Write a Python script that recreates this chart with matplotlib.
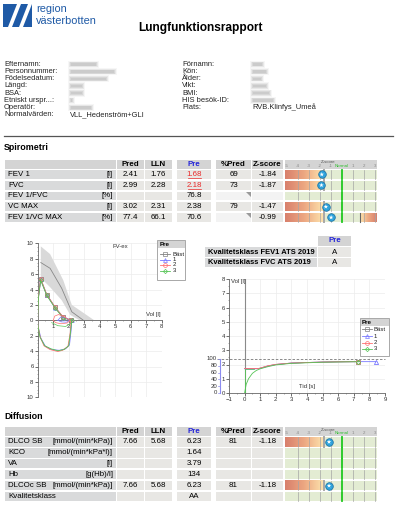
"""
Lungfunktionsrapport - återskapad rapportsida med spirometri, flödes-volym,
volym-tid och diffusion.
"""

import matplotlib
matplotlib.use("Agg")
import matplotlib.pyplot as plt
import matplotlib.patches as patches
from matplotlib.colors import LinearSegmentedColormap
from matplotlib.ticker import MultipleLocator, FuncFormatter
import numpy as np

plt.rcParams['font.family'] = ['Liberation Sans', 'DejaVu Sans']

W, H = 397, 507

# ---------------- data ----------------
info_left_labels = ["Efternamn:", "Personnummer:", "Födelsedatum:", "Längd:", "BSA:",
                    "Etniskt urspr...:", "Operatör:", "Normalvärden:"]
info_right_labels = ["Förnamn:", "Kön:", "Ålder:", "Vikt:", "BMI:", "HIS besök-ID:", "Plats:"]
normalvarden = "VLL_Hedenström+GLI"
plats = "RVB.Klinfys_Umeå"

spiro_names = ["FEV 1", "FVC", "FEV 1/FVC", "VC MAX", "FEV 1/VC MAX"]
spiro_units = ["[l]", "[l]", "[%]", "[l]", "[%]"]
spiro_pred = ["2.41", "2.99", "", "3.02", "77.4"]
spiro_lln = ["1.76", "2.28", "", "2.31", "66.1"]
spiro_pre = ["1.68", "2.18", "76.8", "2.38", "70.6"]
spiro_pct = ["69", "73", "", "79", ""]
spiro_z = [-1.84, -1.87, None, -1.47, -0.99]
spiro_has_uln = [False, False, False, False, True]

kval_names = ["Kvalitetsklass FEV1 ATS 2019", "Kvalitetsklass FVC ATS 2019"]
kval_pre = ["A", "A"]

diff_names = ["DLCO SB", "KCO", "VA", "Hb", "DLCOc SB", "Kvalitetsklass"]
diff_units = ["[mmol/(min*kPa)]", "[mmol/(min*kPa*l)]", "[l]", "[g(Hb)/l]", "[mmol/(min*kPa)]", ""]
diff_pred = ["7.66", "", "", "", "7.66", ""]
diff_lln = ["5.68", "", "", "", "5.68", ""]
diff_pre = ["6.23", "1.64", "3.79", "134", "6.23", "AA"]
diff_pct = ["81", "", "", "", "81", ""]
diff_z = [-1.18, None, None, None, -1.18, None]

# flöde-volym (FV-ex)
fv_pred_vol = [0.2, 0.8, 1.55, 2.2, 2.95]
fv_pred_flow = [7.5, 6.75, 4.15, 1.1, 0.0]
fv_band_up_vol = [0.2, 0.8, 1.65, 2.2, 3.65]
fv_band_up_flow = [9.6, 8.6, 5.2, 2.0, 0.0]
fv_band_lo_vol = [0.2, 0.8, 1.55, 2.1, 2.7]
fv_band_lo_flow = [5.5, 4.3, 2.6, 0.7, 0.0]

fv_vol_1 = [0, 0.05, 0.19, 0.58, 1.12, 1.65, 2.2, 2.15, 2.05, 1.8, 1.4, 0.9, 0.5, 0.2, 0.05, 0]
fv_flow_1 = [0, 3.0, 5.3, 3.3, 1.65, 0.35, 0, -1.4, -3.2, -3.7, -3.9, -3.8, -3.4, -2.3, -1.0, 0]
fv_vol_2 = [0, 0.05, 0.19, 0.58, 1.12, 1.65, 2.15, 2.1, 1.95, 1.6, 1.3, 0.8, 0.4, 0.15, 0.03, 0]
fv_flow_2 = [0, 3.1, 5.4, 3.35, 1.7, 0.4, 0, -1.6, -3.4, -3.9, -4.05, -3.8, -3.3, -2.1, -0.8, 0]
fv_vol_3 = [0, 0.05, 0.19, 0.58, 1.12, 1.65, 2.2, 2.12, 2.0, 1.7, 1.3, 0.85, 0.45, 0.15, 0.03, 0]
fv_flow_3 = [0, 2.9, 5.2, 3.25, 1.6, 0.3, 0, -1.5, -3.3, -3.8, -3.95, -3.7, -3.3, -2.2, -0.9, 0]
fv_best_vol = fv_vol_2[:7]
fv_best_flow = fv_flow_2[:7]
# små andetag före manövern
fv_tidal_vol_1 = [1.3, 1.5, 1.8, 2.05, 1.85, 1.5, 1.3]
fv_tidal_flow_1 = [0, 0.45, 0.35, 0, -0.25, -0.2, 0]
fv_tidal_vol_2 = [1.0, 1.1, 1.35, 1.7, 2.1, 1.9, 1.5, 1.15, 1.0]
fv_tidal_flow_2 = [0, 0.55, 0.75, 0.45, 0, -0.35, -0.45, -0.3, 0]
fv_tidal_vol_3 = [0.9, 1.3, 1.8, 2.15]
fv_tidal_flow_3 = [-0.3, -0.7, -0.8, -0.4]

# volym-tid
vt_t_best = [0, 0.9, 1.0, 1.5, 2, 3, 4, 5, 6, 7.3]
vt_v_best = [1.72, 1.72, 1.74, 1.9, 2.0, 2.1, 2.14, 2.17, 2.19, 2.2]
vt_t_1 = [0, 0.9, 1.0, 1.5, 2, 3, 4, 5, 6, 7.3, 8.4]
vt_v_1 = [1.70, 1.70, 1.73, 1.89, 2.0, 2.1, 2.14, 2.17, 2.19, 2.2, 2.2]
vt_t_2 = [0, 0.9, 1.0, 1.5, 2, 3, 4, 5, 6, 7.3]
vt_v_2 = [1.72, 1.72, 1.75, 1.91, 2.01, 2.1, 2.14, 2.17, 2.19, 2.2]
vt_t_3 = [0, 0.1, 0.25, 0.5, 0.75, 1.0, 1.5, 2, 3, 5, 7.3]
vt_v_3 = [0, 0.6, 1.0, 1.38, 1.58, 1.7, 1.85, 1.97, 2.08, 2.16, 2.2]
vt_extrap_t = [0, 0, 0.6]
vt_extrap_v = [0, 1.66, 1.66]
vt_ref_vol = 2.39
vt_pct_ticks = [0, 20, 40, 60, 80, 100]

# ---------------- style ----------------
C_HEAD = '#d4d4d4'
C_LABEL = '#d9dadb'
C_VAL = '#e8e7e4'
C_LIGHT = '#f3f3f3'
C_ZBG = '#e3ecd3'
C_BLUE_TXT = '#2323d8'
C_RED_TXT = '#e82a2a'
C_LOGO = '#1f5aa6'
COL_BEST, COL_1, COL_2, COL_3 = '#808080', '#7878ff', '#ff7070', '#55c455'

FS = 5.7
FS_INFO = 5.45
COLS = {'label': (5, 116), 'pred': (117, 144), 'lln': (145, 172), 'pre': (177, 211),
        'pct': (216, 251), 'z': (252, 283), 'bar': (285, 377)}
Z0_X, Z_UNIT = 287.0, 11.0
LLN_Z = -1.645

zcmap = LinearSegmentedColormap.from_list('zgrad', ['#d8806c', '#eda882', '#fde4ae'])


def zx(z):
    return Z0_X + (z + 5) * Z_UNIT


fig = plt.figure(figsize=(W / 100, H / 100), dpi=100)
bg = fig.add_axes([0, 0, 1, 1])
bg.axis('off')


def px_axes(x0, y0, x1, y1):
    return fig.add_axes([x0 / W, 1 - y1 / H, (x1 - x0) / W, (y1 - y0) / H])


def rect(ax, x0, y0, x1, y1, color, **kw):
    ax.add_patch(patches.Rectangle((x0, y0), x1 - x0, y1 - y0, facecolor=color,
                                   edgecolor='none', **kw))


def cell_text(col, y, s, **kw):
    x0, x1 = COLS[col]
    bg.text((x0 + x1) / 2, y, s, ha='center', va='center', fontsize=FS, **kw)


def blurred(x, y, w):
    # anonymiserat värde - visas bara som suddig fläck
    for pad, a in ((1.6, 0.10), (0.8, 0.18), (0.0, 0.25), (-0.8, 0.25)):
        rect(bg, x - pad, y - 2 - pad, x + w + pad, y + 2 + pad, '#a8a8a8', alpha=a)


# ---------------- header ----------------
rect(bg, 3, 4, 32, 27, C_LOGO)
for xs in ([8, 12, 21, 17], [19, 23, 32, 28]):
    bg.add_patch(patches.Polygon([(xs[0], 27), (xs[1], 27), (xs[2], 4), (xs[3], 4)],
                                 closed=True, facecolor='white', edgecolor='none'))
bg.text(36, 9.2, "region", fontsize=7.9, color=C_LOGO, va='center', ha='left')
bg.text(36, 20.6, "västerbotten", fontsize=7.9, color=C_LOGO, va='center', ha='left')
bg.text(200.5, 27.5, "Lungfunktionsrapport", fontsize=8.6, fontweight='bold',
        ha='center', va='center')

# patientuppgifter
hidden_left_w = [27, 45, 37, 13, 13, 3, 22]
hidden_right_w = [11, 15, 10, 15, 18, 22]
row_y = [64.3 + i * 7.2 for i in range(8)]
for i, lab in enumerate(info_left_labels):
    bg.text(4, row_y[i], lab, fontsize=FS_INFO, va='center', color='#222')
for i, lab in enumerate(info_right_labels):
    bg.text(182, row_y[i], lab, fontsize=FS_INFO, va='center', color='#222')
for i, w in enumerate(hidden_left_w):
    blurred(70, row_y[i], w)
for i, w in enumerate(hidden_right_w):
    blurred(252, row_y[i], w)
bg.text(70, row_y[7], normalvarden, fontsize=FS_INFO, va='center', color='#222')
bg.text(252, row_y[6], plats, fontsize=FS_INFO, va='center', color='#222')
bg.plot([4, 393], [136, 136], color='#555555', lw=0.9)


# ---------------- tabeller ----------------
def zbar(y0, y1, z, uln):
    x0, x1 = COLS['bar']
    rect(bg, x0, y0, x1, y1, C_ZBG)
    if z is not None:
        bg.imshow(np.linspace(0, 1, 64)[None, :], cmap=zcmap, aspect='auto',
                  extent=(x0, zx(LLN_Z), y1, y0), zorder=1)
        if uln:
            bg.imshow(np.linspace(1, 0.6, 32)[None, :], cmap=zcmap, aspect='auto',
                      extent=(zx(-LLN_Z), x1, y1, y0), zorder=1)
    for k in range(-4, 4):
        xx = zx(k)
        if k == 0:
            bg.plot([xx, xx], [y0, y1], color='#1fc81f', lw=1.3, zorder=2)
        else:
            bg.plot([xx, xx], [y0, y1], color='#a5a5a5', lw=0.5, zorder=2)
    if z is not None:
        bg.plot([zx(LLN_Z)] * 2, [y0, y1], color='#a8a8a8', lw=1.4, zorder=2)
        if uln:
            bg.plot([zx(-LLN_Z)] * 2, [y0, y1], color='#666666', lw=0.8, zorder=2)
        yc = (y0 + y1) / 2
        bg.scatter([zx(z)], [yc], s=30, c='#2ea3dc', edgecolors='#1b6f9f', linewidths=0.5, zorder=5)
        bg.scatter([zx(z)], [yc], s=12, marker='*', c='white', edgecolors='none', zorder=6)


def table_header(y0, y1):
    for col in ('label', 'pred', 'lln', 'pre', 'pct', 'z', 'bar'):
        rect(bg, COLS[col][0], y0, COLS[col][1], y1, C_HEAD)
    yc = (y0 + y1) / 2
    cell_text('pred', yc, "Pred", fontweight='bold')
    cell_text('lln', yc, "LLN", fontweight='bold')
    cell_text('pre', yc, "Pre", fontweight='bold', color=C_BLUE_TXT)
    cell_text('pct', yc, "%Pred", fontweight='bold')
    cell_text('z', yc, "Z-score", fontweight='bold')
    for k in range(-5, 4):
        lab = "Normal" if k == 0 else str(k)
        bg.text(zx(k), yc + 1.6, lab, fontsize=3.2, ha='center', va='center',
                color='#2fbf2f' if k == 0 else '#888888')
    bg.text(zx(-1.3), yc - 1.6, "Z-score", fontsize=3.2, ha='center', va='center', color='#555555')


def table_rows(y_start, pitch, h, names, units, pred, lln, pre, pct, z, uln, light_pct):
    for i in range(len(names)):
        y0 = y_start + i * pitch
        y1 = y0 + h
        yc = (y0 + y1) / 2
        rect(bg, COLS['label'][0], y0, COLS['label'][1], y1, C_LABEL)
        for col in ('pred', 'lln', 'pre', 'pct', 'z'):
            c = C_VAL
            if col in ('pct', 'z') and light_pct[i] and not (col == 'z' and z[i] is not None):
                c = C_LIGHT
            rect(bg, COLS[col][0], y0, COLS[col][1], y1, c)
        if light_pct[i]:
            x1 = COLS['pct'][1]
            bg.add_patch(patches.Polygon([(x1 - 5, y0), (x1, y0), (x1, y0 + 5)], closed=True,
                                         facecolor='#9a9a9a', edgecolor='none'))
        bg.text(8, yc, names[i], fontsize=FS, va='center', ha='left')
        if units[i]:
            bg.text(113, yc, units[i], fontsize=FS, va='center', ha='right')
        cell_text('pred', yc, pred[i])
        cell_text('lln', yc, lln[i])
        low = False
        try:
            low = float(pre[i]) < float(lln[i])
        except ValueError:
            pass
        cell_text('pre', yc, pre[i], color=C_RED_TXT if low else 'black')
        if low:
            xc = sum(COLS['pre']) / 2
            bg.plot([xc - 6.5, xc + 6.5], [yc + 3.6, yc + 3.6], color=C_RED_TXT, lw=0.5)
        cell_text('pct', yc, pct[i])
        cell_text('z', yc, "" if z[i] is None else f"{z[i]:.2f}")
        zbar(y0, y1, z[i], uln[i])


# spirometri
bg.text(4, 148, "Spirometri", fontsize=6.4, fontweight='bold', va='center')
table_header(159.5, 168.6)
spiro_light = [False, False, True, False, True]
table_rows(170, 10.75, 8.9, spiro_names, spiro_units, spiro_pred, spiro_lln,
           spiro_pre, spiro_pct, spiro_z, spiro_has_uln, spiro_light)

# kvalitetsklass
rect(bg, 318, 236, 351, 246.3, C_HEAD)
bg.text(334.5, 241, "Pre", fontsize=FS, fontweight='bold', color=C_BLUE_TXT, ha='center', va='center')
for i, (nm, v) in enumerate(zip(kval_names, kval_pre)):
    y0 = 247.3 + i * 10.6
    rect(bg, 205, y0, 317, y0 + 9.4, C_LABEL)
    rect(bg, 318, y0, 351, y0 + 9.4, C_VAL)
    bg.text(208, y0 + 4.7, nm, fontsize=5.4, fontweight='bold', va='center')
    bg.text(334.5, y0 + 4.7, v, fontsize=FS, ha='center', va='center')

# diffusion
bg.text(4, 416.5, "Diffusion", fontsize=6.4, fontweight='bold', va='center')
table_header(426.8, 436)
diff_uln = [False] * 6
diff_light = [False] * 6
table_rows(437.2, 10.95, 9.4, diff_names, diff_units, diff_pred, diff_lln,
           diff_pre, diff_pct, diff_z, diff_uln, diff_light)

bg.set_xlim(0, W)
bg.set_ylim(H, 0)

# ---------------- FV-ex ----------------
TICK_KW = dict(labelsize=4.3, length=2, width=0.5, pad=1, colors='#333333')

ax1 = px_axes(37.7, 243.3, 161.7, 397.3)
ax1.set_facecolor('none')
ax1.set_xlim(0, 8)
ax1.set_ylim(-10, 10)
ax1.spines['left'].set_position(('data', 0))
ax1.spines['bottom'].set_position(('data', 0))
for s in ('top', 'right'):
    ax1.spines[s].set_visible(False)
for s in ('left', 'bottom'):
    ax1.spines[s].set_color('#666666')
    ax1.spines[s].set_linewidth(0.6)
ax1.set_xticks(range(1, 9))
ax1.set_yticks(range(-10, 11, 2))
ax1.xaxis.set_minor_locator(MultipleLocator(0.5))
ax1.yaxis.set_minor_locator(MultipleLocator(0.5))
ax1.yaxis.set_major_formatter(FuncFormatter(lambda v, p: f"{abs(v):.0f}"))
ax1.tick_params(which='major', **TICK_KW)
ax1.tick_params(which='minor', length=1, width=0.4, colors='#666666')
ax1.grid(True, which='major', color='#ececec', lw=0.5)
ax1.set_axisbelow(True)

band_x = fv_band_up_vol + fv_band_lo_vol[::-1]
band_y = fv_band_up_flow + fv_band_lo_flow[::-1]
ax1.fill(band_x, band_y, color='#d9d9d9', lw=0, zorder=1)
ax1.plot(fv_pred_vol, fv_pred_flow, color='#888888', lw=0.6, zorder=2)

mk = [2, 3, 4, 5, 6]
ax1.plot(fv_best_vol, fv_best_flow, color=COL_BEST, lw=0.6, marker='s', ms=3, mfc='none',
         mew=0.6, markevery=mk, zorder=3)
for v, f, c, m in ((fv_vol_1, fv_flow_1, COL_1, '^'), (fv_vol_2, fv_flow_2, COL_2, 'o'),
                   (fv_vol_3, fv_flow_3, COL_3, 'D')):
    ax1.plot(v, f, color=c, lw=0.6, marker=m, ms=2.6 if m != 'D' else 2.0, mfc='none',
             mew=0.5, markevery=mk, zorder=3)
ax1.plot(fv_tidal_vol_1, fv_tidal_flow_1, color=COL_1, lw=0.5, zorder=3)
ax1.plot(fv_tidal_vol_2, fv_tidal_flow_2, color=COL_2, lw=0.5, zorder=3)
ax1.plot(fv_tidal_vol_3, fv_tidal_flow_3, color=COL_3, lw=0.5, zorder=3)
ax1.text(4.8, 9.6, "FV-ex", fontsize=4.3, ha='left', va='center', color='#333333')
ax1.text(7.95, 0.7, "Vol [l]", fontsize=4.3, ha='right', va='center', color='#333333')

# ---------------- volym-tid ----------------
ax2 = px_axes(229, 279, 385, 393)
ax2.set_facecolor('none')
ax2.set_xlim(-1, 9)
ax2.set_ylim(0, 8)
for s in ('top', 'right'):
    ax2.spines[s].set_visible(False)
for s in ('left', 'bottom'):
    ax2.spines[s].set_color('#666666')
    ax2.spines[s].set_linewidth(0.6)
ax2.set_xticks(range(-1, 10))
ax2.set_yticks(range(0, 9))
ax2.xaxis.set_minor_locator(MultipleLocator(0.5))
ax2.yaxis.set_minor_locator(MultipleLocator(0.5))
ax2.tick_params(which='major', **TICK_KW)
ax2.tick_params(which='minor', length=1, width=0.4, colors='#666666')
ax2.grid(True, which='major', color='#ececec', lw=0.5)
ax2.set_axisbelow(True)
ax2.axvline(0, color='#8a8a8a', lw=0.8, zorder=2)
ax2.plot([-1.75, 9], [vt_ref_vol, vt_ref_vol], ls=(0, (3, 2)), color='#777777', lw=0.6,
         clip_on=False, zorder=2)

# procentskala
px = -1.58
ax2.plot([px, px], [0, vt_ref_vol], color='#8c8cf0', lw=0.8, clip_on=False)
for p in vt_pct_ticks:
    yv = p / 100 * vt_ref_vol
    ax2.plot([px - 0.12, px], [yv, yv], color='#8c8cf0', lw=0.5, clip_on=False)
    ax2.text(px - 0.18, yv, str(p), fontsize=4.3, ha='right', va='center', color='#333333')

ax2.plot(vt_extrap_t, vt_extrap_v, color=COL_3, lw=0.6, zorder=3)
ax2.plot(vt_t_best, vt_v_best, color=COL_BEST, lw=0.6, zorder=3)
ax2.plot(vt_t_1, vt_v_1, color=COL_1, lw=0.6, zorder=3)
ax2.plot(vt_t_2, vt_v_2, color=COL_2, lw=0.6, zorder=3)
ax2.plot(vt_t_3, vt_v_3, color=COL_3, lw=0.6, zorder=3)
for t, v, c, m in ((vt_t_best, vt_v_best, COL_BEST, 's'), (vt_t_1, vt_v_1, COL_1, '^'),
                   (vt_t_2, vt_v_2, COL_2, 'o'), (vt_t_3, vt_v_3, COL_3, 'D')):
    ax2.plot(t[-1], v[-1], marker=m, ms=3 if m != 'D' else 2.2, mfc='none', mec=c, mew=0.6,
             zorder=4)
ax2.text(-0.87, 7.8, "Vol [l]", fontsize=4.3, ha='left', va='center', color='#333333')
ax2.text(4.0, 0.45, "Tid [s]", fontsize=4.3, ha='center', va='center', color='#333333')

# ---------------- legender ----------------
top = fig.add_axes([0, 0, 1, 1])
top.axis('off')
top.set_xlim(0, W)
top.set_ylim(H, 0)


def legend_box(x0, y0, x1, y1, title_h, entries_y, lx0, lx1, tx):
    top.add_patch(patches.Rectangle((x0, y0), x1 - x0, y1 - y0, facecolor='white',
                                    edgecolor='#9a9a9a', lw=0.6))
    rect(top, x0 + 0.5, y0 + 0.5, x1 - 0.5, y0 + title_h, C_HEAD)
    top.text(x0 + 2, y0 + title_h / 2 + 0.6, "Pre", fontsize=4.5, fontweight='bold', va='center')
    for yy, lab, c, m in zip(entries_y, ["Bäst", "1", "2", "3"],
                             [COL_BEST, COL_1, COL_2, COL_3], ['s', '^', 'o', 'D']):
        top.plot([lx0, lx1], [yy, yy], color=c, lw=0.6)
        top.plot((lx0 + lx1) / 2, yy, marker=m, ms=2.8 if m != 'D' else 2.2, mfc='none',
                 mec=c, mew=0.5)
        top.text(tx, yy, lab, fontsize=4.3, va='center', ha='left', color='#222222')


legend_box(157.3, 240, 185, 280, 8, [254, 259.5, 265, 270.5], 160, 170, 172.5)
legend_box(360, 318.3, 389, 355.7, 7.5, [329.3, 336, 342.7, 349], 361.7, 371.7, 373.5)

fig.savefig("out.png", dpi=100)
